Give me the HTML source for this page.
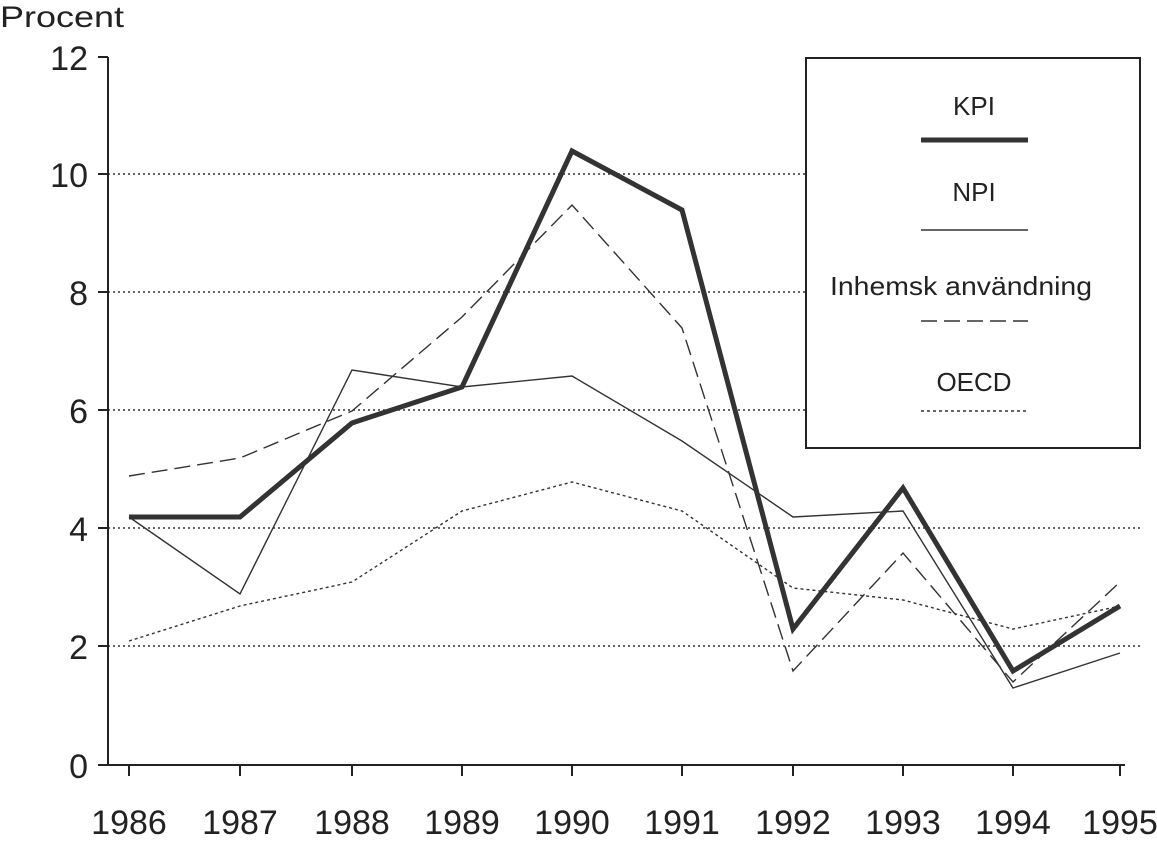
<!DOCTYPE html>
<html><head><style>body{margin:0;background:#fff}</style></head><body>
<svg width="1157" height="836" xmlns="http://www.w3.org/2000/svg" font-family="Liberation Sans, sans-serif" fill="#222">
<text x="0" y="27" font-size="30" textLength="124" lengthAdjust="spacingAndGlyphs">Procent</text>
<g stroke="#333" stroke-width="1.6" stroke-dasharray="2,3">
<line x1="108" y1="174" x2="1140" y2="174"/><line x1="108" y1="292" x2="1140" y2="292"/><line x1="108" y1="410" x2="1140" y2="410"/><line x1="108" y1="528" x2="1140" y2="528"/><line x1="108" y1="646" x2="1140" y2="646"/>
</g>
<g stroke="#222" stroke-width="2">
<line x1="108" y1="57" x2="108" y2="766"/><line x1="107" y1="765" x2="1125" y2="765"/>
<line x1="98" y1="57" x2="108" y2="57"/><line x1="98" y1="174" x2="108" y2="174"/><line x1="98" y1="292" x2="108" y2="292"/><line x1="98" y1="410" x2="108" y2="410"/><line x1="98" y1="528" x2="108" y2="528"/><line x1="98" y1="646" x2="108" y2="646"/><line x1="98" y1="765" x2="108" y2="765"/>
<line x1="129" y1="765" x2="129" y2="776"/><line x1="240" y1="765" x2="240" y2="776"/><line x1="352" y1="765" x2="352" y2="776"/><line x1="462" y1="765" x2="462" y2="776"/><line x1="572" y1="765" x2="572" y2="776"/><line x1="682" y1="765" x2="682" y2="776"/><line x1="793" y1="765" x2="793" y2="776"/><line x1="903" y1="765" x2="903" y2="776"/><line x1="1013" y1="765" x2="1013" y2="776"/><line x1="1120" y1="765" x2="1120" y2="776"/>
</g>
<g font-size="34" text-anchor="end">
<text x="88" y="70">12</text><text x="88" y="187">10</text><text x="88" y="305">8</text><text x="88" y="423">6</text><text x="88" y="541">4</text><text x="88" y="659">2</text><text x="88" y="778">0</text>
</g>
<g font-size="34" text-anchor="middle">
<text x="129" y="834">1986</text><text x="240" y="834">1987</text><text x="352" y="834">1988</text><text x="462" y="834">1989</text><text x="572" y="834">1990</text><text x="682" y="834">1991</text><text x="793" y="834">1992</text><text x="903" y="834">1993</text><text x="1013" y="834">1994</text><text x="1120" y="834">1995</text>
</g>
<g fill="none">
<polyline stroke="#333" stroke-width="1.4" stroke-dasharray="3,3" points="129,641 240,606 352,582 462,511 572,482 682,511 793,588 903,600 1013,629 1120,606"/>
<polyline stroke="#333" stroke-width="1.4" stroke-dasharray="16,7" points="129,476 240,458 352,411 462,317 572,205 682,328 793,671 903,553 1013,682 1120,582"/>
<polyline stroke="#333" stroke-width="1.4" points="129,517 240,594 352,370 462,387 572,376 682,441 793,517 903,511 1013,688 1120,653"/>
<polyline stroke="#333" stroke-width="5" stroke-linejoin="miter" points="129,517 240,517 352,423 462,387 572,151 682,210 793,629 903,488 1013,671 1120,606"/>
</g>
<rect x="806" y="58" width="334" height="390" fill="#fff" stroke="#222" stroke-width="2"/>
<g font-size="26" text-anchor="middle">
<text x="974" y="115">KPI</text><text x="974" y="201">NPI</text><text x="961" y="295" textLength="262" lengthAdjust="spacingAndGlyphs">Inhemsk användning</text><text x="974" y="391">OECD</text>
</g>
<line x1="921" y1="140" x2="1028" y2="140" stroke="#333" stroke-width="5"/>
<line x1="921" y1="230" x2="1028" y2="230" stroke="#333" stroke-width="1.4"/>
<line x1="921" y1="321" x2="1028" y2="321" stroke="#333" stroke-width="1.4" stroke-dasharray="16,7"/>
<line x1="921" y1="411" x2="1028" y2="411" stroke="#333" stroke-width="1.4" stroke-dasharray="3,3"/>
</svg>
</body></html>
